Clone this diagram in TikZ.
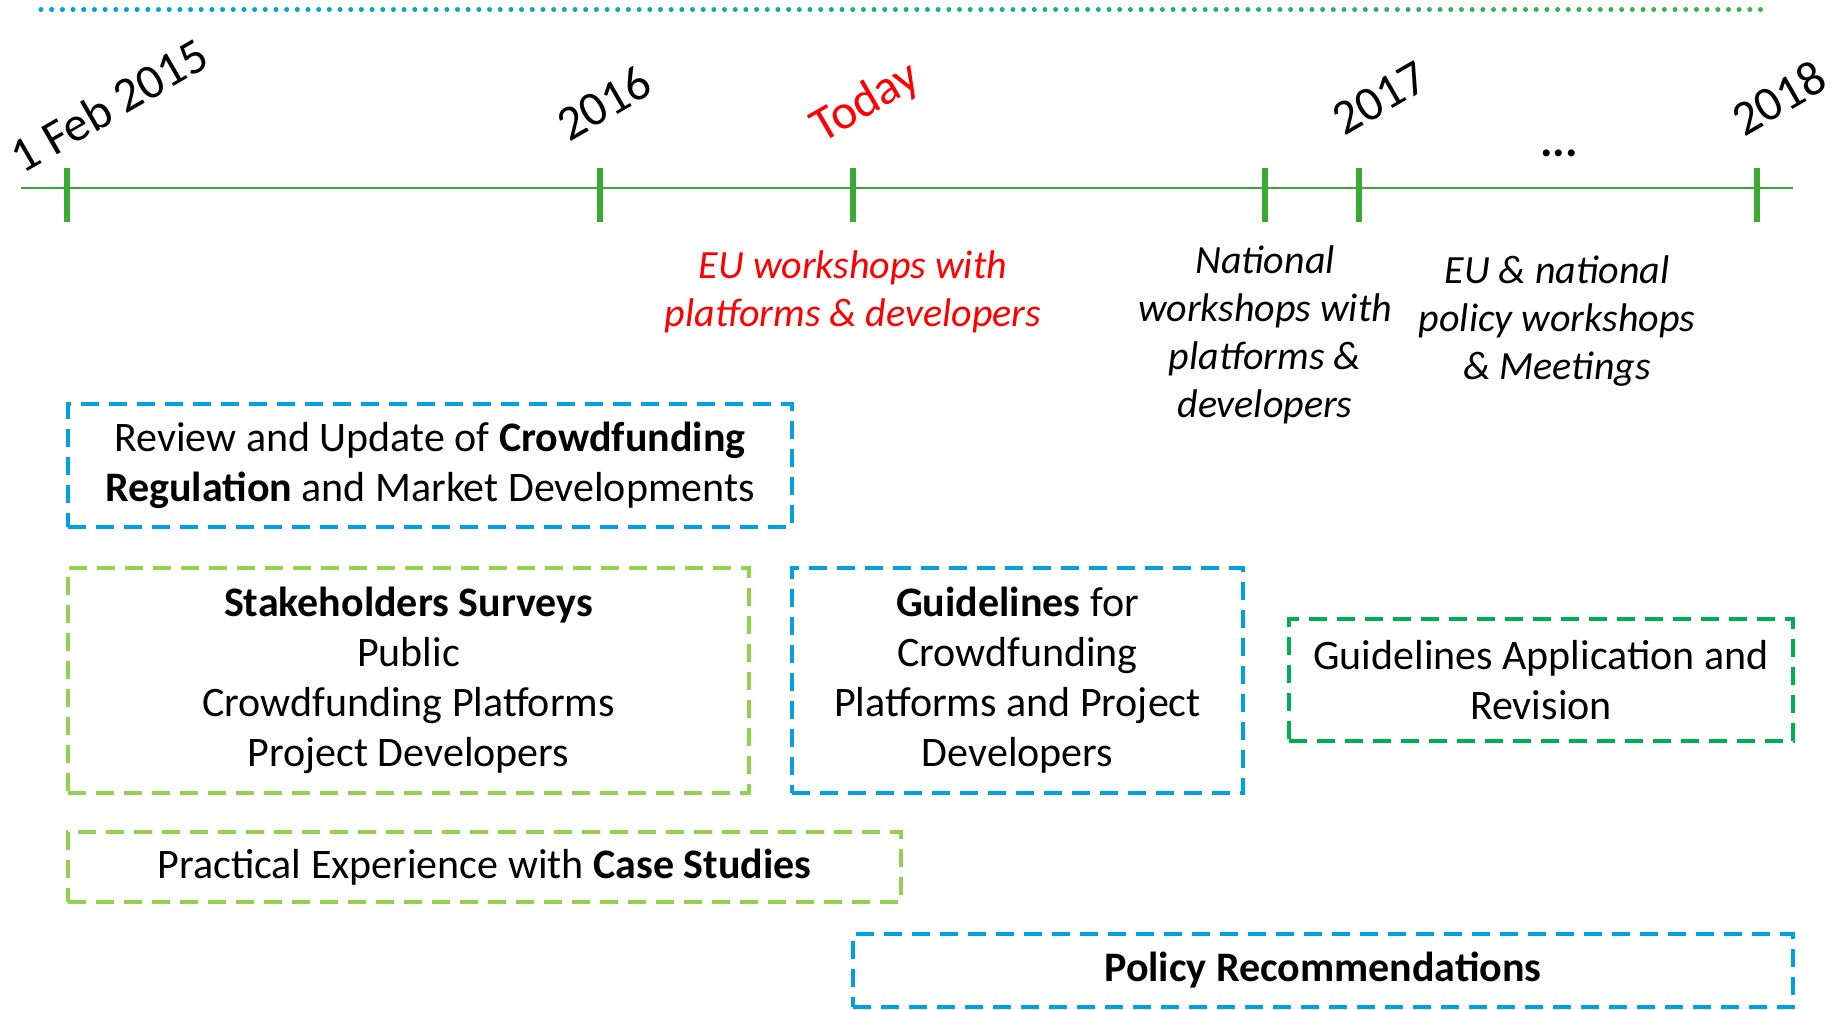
\documentclass[tikz,border=0pt]{standalone}
\usepackage{fontspec}
\setmainfont{Carlito}
\definecolor{boxblue}{RGB}{0,160,226}
\definecolor{boxlime}{RGB}{146,208,80}
\definecolor{boxgreen}{RGB}{0,176,80}
\definecolor{axisgreen}{RGB}{58,170,53}
\definecolor{dotgreen}{RGB}{60,182,60}
\definecolor{todayred}{RGB}{255,0,0}

\tikzset{
  box/.style={draw, line width=1.75pt, dash pattern=on 9pt off 5pt,
    align=center, inner sep=0pt, font=\fontsize{21}{25}\selectfont},
  year/.style={rotate=30, inner sep=0pt, font=\fontsize{24.5}{29}\selectfont},
  event/.style={align=center, inner sep=0pt, font=\fontsize{20}{24}\selectfont\itshape},
  tick/.style={axisgreen, line width=2.7pt}
}

\begin{document}
\begin{tikzpicture}[x=0.5pt, y=-0.5pt]
  \useasboundingbox (0,0) rectangle (1835,1009);

  % dotted line on top
  \foreach \i in {0,...,161} {
    \pgfmathtruncatemacro\mix{100-100*\i/161}
    \fill[boxblue!\mix!dotgreen] (41+10.68*\i,9.5) circle (1.25pt);
  }

  % timeline
  \draw[axisgreen, line width=1.2pt] (21,188) -- (1793,188);
  \foreach \x in {67,600,853,1265,1359,1757}
    \draw[tick] (\x,168) -- (\x,222);

  \node[year] (y15) at (109,105) {1 Feb 2015};
  \node[year] (y16) at (604,103) {2016};
  \node[year, todayred] (today) at (866,103) {Today};
  \node[year] (y17) at (1380,98) {2017};
  \node[year] (y18) at (1779,98) {2018};
  \node[inner sep=0pt, font=\fontsize{23.5}{28}\selectfont\bfseries] (dots) at (1559,153) {...};

  % workshops
  \node[event, todayred] (euws) at (853,292) {EU workshops with\\platforms \& developers};
  \node[event] (natws) at (1265,335) {National\\workshops with\\platforms \&\\developers};
  \node[event] (polws) at (1557,321) {EU \& national\\policy workshops\\\& Meetings};

  % work packages
  \node[box, boxblue, text=black, minimum width=362pt, minimum height=61.5pt] (review) at (430,465.5)
    {Review and Update of \textbf{Crowdfunding}\\\textbf{Regulation} and Market Developments};
  \node[box, boxlime, text=black, minimum width=340.5pt, minimum height=112.5pt] (surveys) at (408.5,680.5)
    {\textbf{Stakeholders Surveys}\\Public\\Crowdfunding Platforms\\Project Developers};
  \node[box, boxblue, text=black, minimum width=225.5pt, minimum height=112.5pt] (guide) at (1017.5,680.5)
    {\textbf{Guidelines} for\\Crowdfunding\\Platforms and Project\\Developers};
  \node[box, boxgreen, text=black, minimum width=252pt, minimum height=61pt] (apply) at (1541,680)
    {Guidelines Application and\\Revision};
  \node[box, boxlime, text=black, minimum width=416.5pt, minimum height=35pt] (cases) at (484.5,867)
    {Practical Experience with \textbf{Case Studies}};
  \node[box, boxblue, text=black, minimum width=470pt, minimum height=36.5pt] (policy) at (1323,970.5)
    {\textbf{Policy Recommendations}};

\end{tikzpicture}
\end{document}
